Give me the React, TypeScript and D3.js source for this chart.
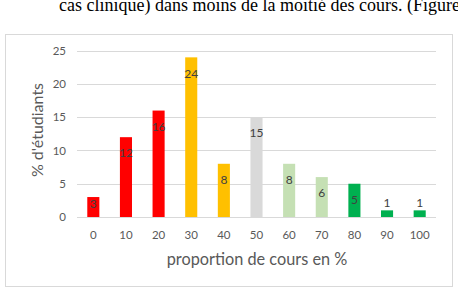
import React from "react";
import * as d3 from "d3";

const categories = ["0", "10", "20", "30", "40", "50", "60", "70", "80", "90", "100"];
const values = [3, 12, 16, 24, 8, 15, 8, 6, 5, 1, 1];
const barColors = ["#FF0000", "#FF0000", "#FF0000", "#FFC000", "#FFC000", "#D9D9D9", "#C5E0B4", "#C5E0B4", "#00B050", "#00B050", "#00B050"];
const yTicks = [0, 5, 10, 15, 20, 25];
const headerText = "cas clinique) dans moins de la moitié des cours. (Figure";
const yTitle = "% d'étudiants";
const xTitle = "proportion de cours en %";

export default function App() {
  const W = 458, H = 296;
  const left = 77, right = 436, top = 50.7, bottom = 217;
  const x = d3.scaleBand<string>().domain(categories).range([left, right]).paddingInner(0.63).paddingOuter(0.315);
  const y = d3.scaleLinear().domain([0, 25]).range([bottom, top]);
  const font = "Lato, 'Open Sans', sans-serif";
  return (
    <svg width={W} height={H} style={{ position: "absolute", left: 0, top: 0, background: "#fff" }}>
      <text x={59} y={11} fontFamily="'Liberation Serif', 'Times New Roman', serif" fontSize={18} fill="#000">{headerText}</text>
      <rect x={5.5} y={34.5} width={447} height={252} fill="#fff" stroke="#D9D9D9" strokeWidth={1} />
      {yTicks.map((t) => (
        <g key={t}>
          <line x1={left} x2={right} y1={Math.round(y(t)) + 0.5} y2={Math.round(y(t)) + 0.5} stroke="#D9D9D9" strokeWidth={1} />
          <text x={66} y={y(t)} dy="0.35em" textAnchor="end" fontFamily={font} fontSize={11.5} fill="#595959">{t}</text>
        </g>
      ))}
      {values.map((v, i) => {
        const c = categories[i];
        const bx = x(c)!;
        const bw = x.bandwidth();
        const by = y(v);
        const bh = y(0) - by;
        let ly: number;
        if (bh >= 30) ly = by + 16;
        else if (bh >= 15) ly = by + 7;
        else ly = by - 8;
        return (
          <g key={c}>
            <rect x={bx} y={by} width={bw} height={bh} fill={barColors[i]} />
            <text x={bx + bw / 2} y={ly} dy="0.35em" textAnchor="middle" fontFamily={font} fontSize={12} fill="#404040">{v}</text>
          </g>
        );
      })}
      {categories.map((c) => (
        <text key={c} x={x(c)! + x.bandwidth() / 2} y={235} dy="0.35em" textAnchor="middle" fontFamily={font} fontSize={11.5} fill="#595959">{c}</text>
      ))}
      <text x={257} y={259} dy="0.35em" textAnchor="middle" fontFamily={font} fontSize={16.3} fill="#595959">{xTitle}</text>
      <text transform={`translate(37,130) rotate(-90)`} dy="0.35em" textAnchor="middle" fontFamily={font} fontSize={16} fill="#595959">{yTitle}</text>
    </svg>
  );
}
